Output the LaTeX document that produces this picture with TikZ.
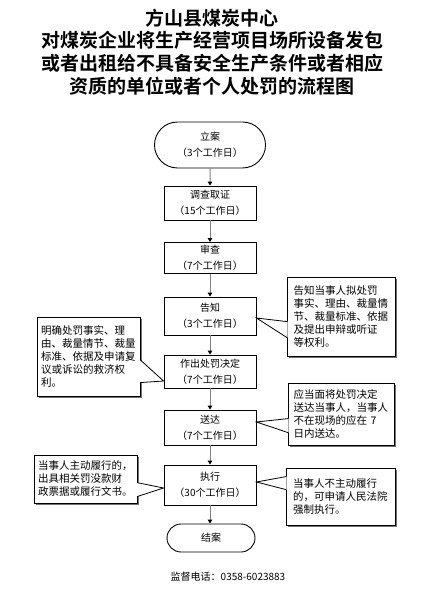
\documentclass[tikz,border=0pt]{standalone}
\usepackage{fontspec}
\newfontfamily\cjk{Noto Sans CJK SC}[BoldFont={Noto Sans CJK SC Bold}]
\usetikzlibrary{arrows.meta,shapes.misc,shadows,calc}
\begin{document}
\begin{tikzpicture}[x=1pt,y=1pt,
  flowbox/.style={draw, line width=0.9pt, minimum width=92pt, inner sep=1pt, align=center, font=\cjk\fontsize{10}{16}\selectfont},
  term/.style={draw, rounded rectangle, line width=0.9pt, align=center, inner sep=1pt, font=\cjk\fontsize{10}{16}\selectfont},
  note/.style={draw, fill=white, line width=0.8pt, drop shadow={shadow xshift=2pt, shadow yshift=-2pt, fill=black!55, opacity=1}, inner sep=4pt, align=left, text width=95pt, font=\cjk\fontsize{10.5}{13}\selectfont},
  ptrfill/.style={fill=white},
  ptrline/.style={draw, line width=0.8pt},
  flowarrow/.style={draw=black!50, line width=1pt, -{Triangle[length=4pt,width=4.5pt,fill=black,color=black]}},
]
\useasboundingbox (0,0) rectangle (425,-593);

% title
\node[align=center, font=\cjk\bfseries\fontsize{19}{22.7}\selectfont] (title) at (212,-52)
  {方山县煤炭中心\\对煤炭企业将生产经营项目场所设备发包\\或者出租给不具备安全生产条件或者相应\\资质的单位或者个人处罚的流程图};

% flow
\node[term, minimum width=113pt, minimum height=46pt] (lian) at (210,-145) {立案\\（3个工作日）};
\node[flowbox, minimum height=34pt] (diaocha) at (210,-203) {调查取证\\（15个工作日）};
\node[flowbox, minimum height=31pt] (shencha) at (210,-258) {审查\\（7个工作日）};
\node[flowbox, minimum height=38pt] (gaozhi) at (210,-316) {告知\\（3个工作日）};
\node[flowbox, minimum height=33pt] (zuochu) at (210,-371.5) {作出处罚决定\\（7个工作日）};
\node[flowbox, minimum height=35pt] (songda) at (210,-427.5) {送达\\（7个工作日）};
\node[flowbox, minimum height=40pt] (zhixing) at (210,-485) {执行\\（30个工作日）};
\node[term, minimum width=90pt, minimum height=28pt] (jiean) at (211,-538) {结案};

\draw[flowarrow] (lian) -- (diaocha);
\draw[flowarrow] (diaocha) -- (shencha);
\draw[flowarrow] (shencha) -- (gaozhi);
\draw[flowarrow] (gaozhi) -- (zuochu);
\draw[flowarrow] (zuochu) -- (songda);
\draw[flowarrow] (songda) -- (zhixing);
\draw[flowarrow] (zhixing.south) -- (zhixing.south |- jiean.north);

% callouts
\node[note, minimum width=103pt, minimum height=79pt] (c1) at (88.5,-356.5)
  {明确处罚事实、理\\由、裁量情节、裁量\\标准、依据及申请复\\议或诉讼的救济权\\利。};
\fill[ptrfill] ($(c1.north east)+(-1,-43)$) -- ($(zuochu.west)+(0,-9.5)$) -- ($(c1.north east)+(-1,-66)$) -- cycle;
\draw[ptrline] ($(c1.north east)+(-0.4,-43)$) -- ($(zuochu.west)+(0,-9.5)$) -- ($(c1.north east)+(-0.4,-66)$);

\node[note, minimum width=108pt, minimum height=79pt] (c2) at (341,-316.5)
  {告知当事人拟处罚\\事实、理由、裁量情\\节、裁量标准、依据\\及提出申辩或听证\\等权利。};
\fill[ptrfill] ($(c2.north west)+(1,-45)$) -- ($(gaozhi.east)+(0,-2)$) -- ($(c2.north west)+(1,-61)$) -- cycle;
\draw[ptrline] ($(c2.north west)+(0.4,-45)$) -- ($(gaozhi.east)+(0,-2)$) -- ($(c2.north west)+(0.4,-61)$);

\node[note, minimum width=106pt, minimum height=62pt] (c3) at (341,-414)
  {应当面将处罚决定\\送达当事人，当事人\\不在现场的应在 7\\日内送达。};
\fill[ptrfill] ($(c3.north west)+(1,-36)$) -- ($(songda.east)+(0,5.5)$) -- ($(c3.north west)+(1,-50)$) -- cycle;
\draw[ptrline] ($(c3.north west)+(0.4,-36)$) -- ($(songda.east)+(0,5.5)$) -- ($(c3.north west)+(0.4,-50)$);

\node[note, minimum width=103pt, minimum height=48pt] (c4) at (85.5,-479)
  {当事人主动履行的，\\出具相关罚没款财\\政票据或履行文书。};
\fill[ptrfill] ($(c4.north east)+(-1,-28)$) -- ($(zhixing.west)+(0,-3)$) -- ($(c4.north east)+(-1,-42)$) -- cycle;
\draw[ptrline] ($(c4.north east)+(-0.4,-28)$) -- ($(zhixing.west)+(0,-3)$) -- ($(c4.north east)+(-0.4,-42)$);

\node[note, minimum width=109pt, minimum height=57pt] (c5) at (340.5,-496.5)
  {当事人不主动履行\\的，可申请人民法院\\强制执行。};
\fill[ptrfill] ($(c5.north west)+(1,-9)$) -- ($(zhixing.east)+(0,3)$) -- ($(c5.north west)+(1,-22)$) -- cycle;
\draw[ptrline] ($(c5.north west)+(0.4,-9)$) -- ($(zhixing.east)+(0,3)$) -- ($(c5.north west)+(0.4,-22)$);

% phone
\node[font=\cjk\fontsize{10}{12}\selectfont] (phone) at (228,-577) {监督电话：0358-6023883};
\end{tikzpicture}
\end{document}
